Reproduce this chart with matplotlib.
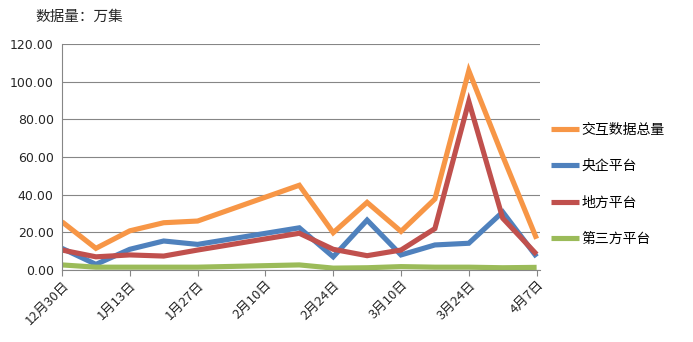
import matplotlib
matplotlib.use("Agg")
import matplotlib.pyplot as plt
import pandas as pd

plt.rcParams['font.family'] = ['Noto Sans CJK SC', 'DejaVu Sans']

dates = ["2013-12-30", "2014-01-06", "2014-01-13", "2014-01-20", "2014-01-27",
         "2014-02-17", "2014-02-24", "2014-03-03", "2014-03-10", "2014-03-17",
         "2014-03-24", "2014-03-31", "2014-04-07"]
total = [25.6, 11.5, 20.8, 25.1, 26.0, 45.0, 19.8, 35.9, 20.5, 37.7, 105.8, 60.5, 16.6]
central = [11.5, 3.0, 11.0, 15.4, 13.6, 22.4, 7.0, 26.5, 8.0, 13.3, 14.2, 30.8, 7.0]
local = [10.6, 7.0, 8.0, 7.4, 10.6, 19.5, 11.0, 7.6, 10.6, 22.0, 89.5, 27.5, 8.3]
third = [2.7, 1.5, 1.5, 1.5, 1.5, 2.7, 1.0, 1.2, 1.8, 1.5, 1.5, 1.2, 1.4]
series_names = ["交互数据总量", "央企平台", "地方平台", "第三方平台"]
tick_dates = ["2013-12-30", "2014-01-13", "2014-01-27", "2014-02-10",
              "2014-02-24", "2014-03-10", "2014-03-24", "2014-04-07"]
tick_labels = ["12月30日", "1月13日", "1月27日", "2月10日", "2月24日", "3月10日", "3月24日", "4月7日"]
y_ticks = [0, 20, 40, 60, 80, 100, 120]
colors = ["#F79646", "#4F81BD", "#C0504D", "#9BBB59"]

x = pd.to_datetime(dates)
xt = pd.to_datetime(tick_dates)

fig = plt.figure(figsize=(6.93, 3.42), dpi=100)
ax = fig.add_axes([62/693, 1-270/342, (540-62)/693, (270-44)/342])

for vals, name, c in zip([total, central, local, third], series_names, colors):
    ax.plot(x, vals, color=c, lw=3.7, label=name, solid_joinstyle='miter', solid_capstyle='butt')

ax.set_ylim(0, 120)
ax.set_yticks(y_ticks)
ax.set_yticklabels([f"{v:.2f}" for v in y_ticks], fontsize=9, family=['DejaVu Sans'], color='#262626')
ax.set_xlim(xt[0], xt[-1] + pd.Timedelta(days=0.7))
ax.set_xticks(xt)
ax.set_xticklabels(tick_labels, rotation=45, ha='right', va='top', fontsize=9.5,
                   rotation_mode='anchor', color='#262626')
ax.tick_params(axis='y', length=0, pad=6)
ax.tick_params(axis='x', length=4, color='#868686', width=0.8, pad=2)
ax.grid(axis='y', color='#868686', lw=0.8)
ax.set_axisbelow(True)
for s in ['top', 'right']:
    ax.spines[s].set_visible(False)
for s in ['left', 'bottom']:
    ax.spines[s].set_color('#868686')
    ax.spines[s].set_linewidth(0.8)

fig.text(35/693, 1-17/342, "数据量：万集", fontsize=10.5, va='center', ha='left', color='#262626')

ax.legend(loc='upper left', bbox_to_anchor=(551/693, 1-123/342), bbox_transform=fig.transFigure,
          frameon=False, fontsize=10, handlelength=2.0, handletextpad=0.2,
          labelspacing=1.6, borderaxespad=0, borderpad=0)

fig.savefig("out.png", dpi=100, facecolor='white')
